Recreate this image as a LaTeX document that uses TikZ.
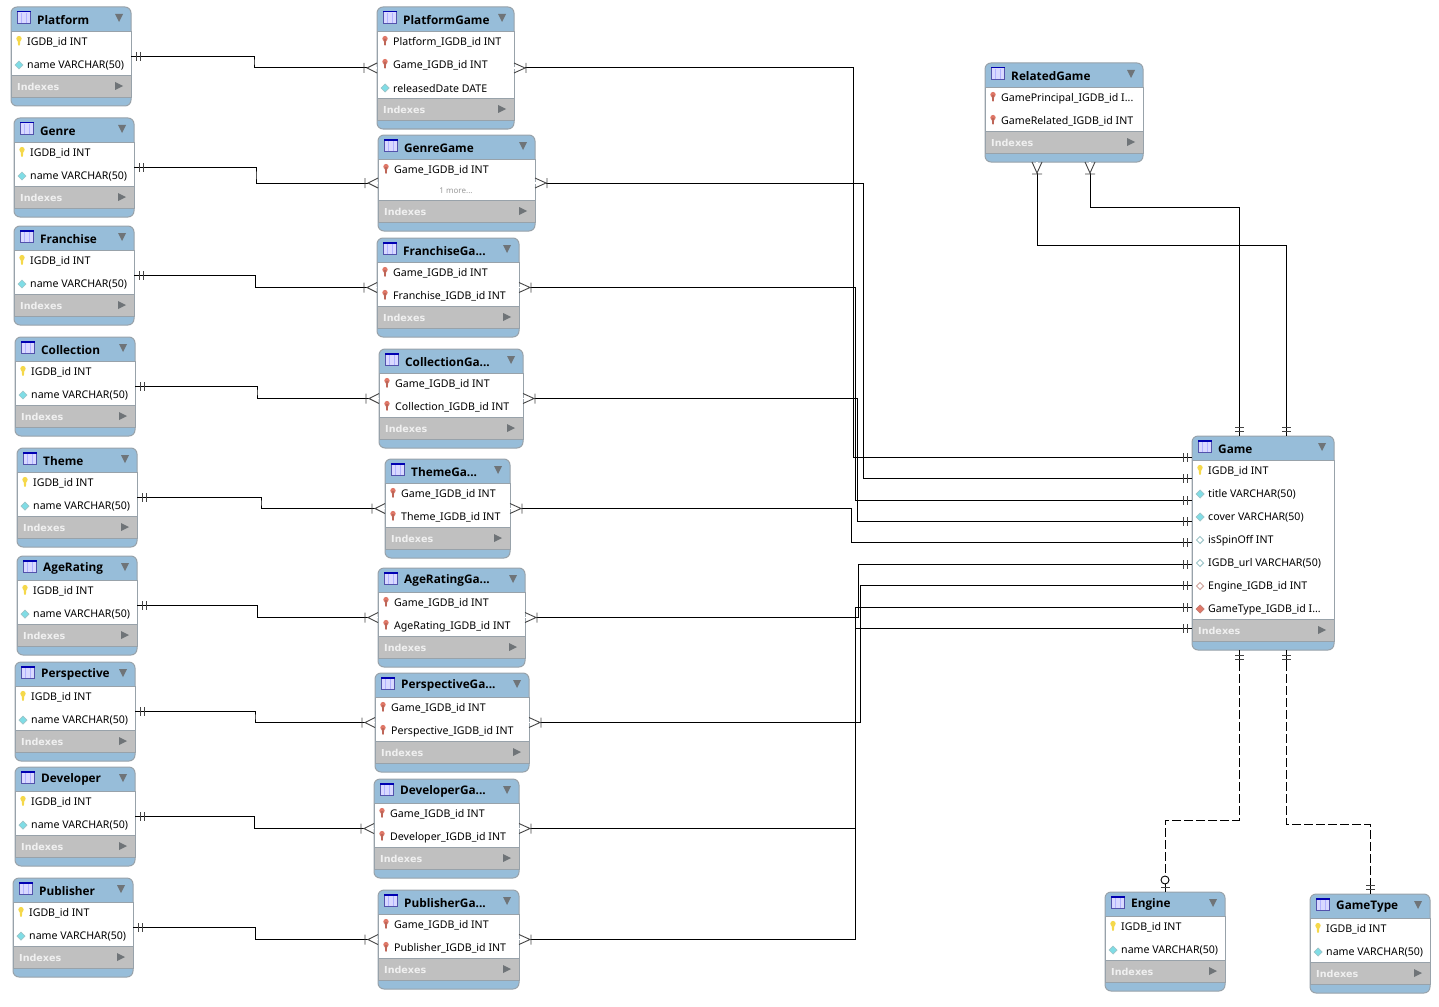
\documentclass[tikz,border=0pt]{standalone}
\usepackage{fontspec}
\setmainfont{Noto Sans}
\newfontfamily\titlefont{Open Sans}
\newfontfamily\indexfont{DejaVu Sans}
\usetikzlibrary{calc,decorations.markings}
\definecolor{headblue}{HTML}{97BDD9}
\definecolor{bandgray}{HTML}{C0C0C0}
\definecolor{edgegray}{HTML}{98A2AA}
\definecolor{markgray}{HTML}{444444}
\definecolor{tigray}{HTML}{6F7478}
\definecolor{colcyan}{HTML}{7FDDE6}
\definecolor{coledge}{HTML}{9CC4C8}
\definecolor{pinred}{HTML}{E07868}
\definecolor{keyyellow}{HTML}{F5D84A}
\newcommand{\cutdots}{...}
\tikzset{
  erdbox/.style={draw=edgegray,fill=headblue,line width=1pt,rounded corners=6pt,anchor=north west,inner sep=0pt,outer sep=0pt},
  titletext/.style={anchor=west,inner sep=0pt,font=\titlefont\fontsize{11.8}{14}\selectfont\bfseries},
  rowtext/.style={anchor=west,inner sep=0pt,font=\fontsize{10.6}{12}\selectfont},
  indextext/.style={anchor=west,inner sep=0pt,text=white!94!black,font=\indexfont\fontsize{9.6}{12}\selectfont\bfseries},
  moretext/.style={inner sep=0pt,text=gray!80,font=\fontsize{8}{10}\selectfont},
  link/.style={draw=black,line width=1pt},
  marks/.style={markgray,line width=.9pt,solid},
  oneS/.style={postaction={decorate,decoration={markings,mark=at position 5pt with {
    \draw[black,line width=1pt,solid] (-5,0) -- (8,0);
    \draw[marks] (0,-4.5) -- (0,4.5) (4,-4.5) -- (4,4.5);}}}},
  oneE/.style={postaction={decorate,decoration={markings,mark=at position -9pt with {
    \draw[black,line width=1pt,solid] (-3,0) -- (9,0);
    \draw[marks] (0,-4.5) -- (0,4.5) (4,-4.5) -- (4,4.5);}}}},
  crowS/.style={postaction={decorate,decoration={markings,mark=at position 12pt with {
    \draw[white,line width=1.6pt,solid] (-12,0) -- (-1,0);
    \draw[marks] (0,-5) -- (0,5) (-12,-5) -- (-1,0) -- (-12,5);}}}},
  crowE/.style={postaction={decorate,decoration={markings,mark=at position -13pt with {
    \draw[white,line width=1.6pt,solid] (3,0) -- (13,0);
    \draw[marks] (0,-5) -- (0,5) (13,-5) -- (3,0) -- (13,5);}}}},
  zeroE/.style={postaction={decorate,decoration={markings,mark=at position -12pt with {
    \draw[black,line width=1pt,solid] (0,0) -- (12,0);
    \draw[marks,black,fill=white] (0,0) circle (4);
    \draw[marks] (7,-4.5) -- (7,4.5);}}}},
  pics/keyicon/.style={code={
    \fill[keyyellow] (0,-3.4) circle (2.7);
    \fill[keyyellow] (-1.5,-3) -- (1.5,-3) -- (.9,3.5) -- (-.9,3.5) -- cycle;}},
  pics/pinicon/.style={code={
    \fill[pinred] (0,-3.4) circle (2.7);
    \fill[pinred!85!black] (-1.3,-3) -- (1.3,-3) -- (.7,3.5) -- (-.7,3.5) -- cycle;}},
  pics/colicon/.style={code={
    \draw[coledge,fill=colcyan,line width=.7pt] (-4,0) -- (0,-4) -- (4,0) -- (0,4) -- cycle;}},
  pics/opticon/.style={code={
    \draw[coledge,fill=white,line width=.9pt] (-3.6,0) -- (0,-3.6) -- (3.6,0) -- (0,3.6) -- cycle;}},
  pics/fkopticon/.style={code={
    \draw[pinred!60!gray!70,fill=white,line width=.9pt] (-3.6,0) -- (0,-3.6) -- (3.6,0) -- (0,3.6) -- cycle;}},
  pics/fkicon/.style={code={
    \draw[pinred!70!gray,fill=pinred,line width=.7pt] (-4,0) -- (0,-4) -- (4,0) -- (0,4) -- cycle;}},
}
% #1 name, #2 left, #3 top, #4 width, #5 height of the rows, #6 title, #7 rows
\newcommand{\erdtable}[7]{
  \node[erdbox,minimum width=#4*1pt,minimum height={(55+#5)*1pt}] (#1) at (#2,#3) {};
  \draw[edgegray,fill=white] (#2,#3+24) rectangle (#2+#4,#3+24+#5);
  \draw[edgegray,fill=bandgray] (#2,#3+24+#5) rectangle (#2+#4,#3+46+#5);
  \draw[blue!35!gray,fill=blue!15!white] (#2+6.5,#3+4.5) rectangle (#2+19.5,#3+16.5);
  \fill[blue!70!black] (#2+6,#3+4) rectangle (#2+20,#3+5.5);
  \draw[blue!30!white,line width=.8pt] (#2+10.5,#3+6) -- (#2+10.5,#3+16) (#2+15.5,#3+6) -- (#2+15.5,#3+16);
  \node[titletext] (#1-title) at (#2+26,#3+12.8) {#6};
  \fill[tigray] (#2+#4-16,#3+7) -- (#2+#4-8,#3+7) -- (#2+#4-12,#3+15) -- cycle;
  \foreach \ic/\txt [count=\i] in {#7} {
    \pic at (#2+8,#3+12+23*\i) {\ic};
    \node[rowtext] (#1-\i) at (#2+16,#3+12.7+23*\i) {\txt};
  }
  \node[indextext] (#1-indexes) at (#2+6,#3+35.5+#5) {Indexes};
  \fill[tigray] (#2+#4-16,#3+31+#5) -- (#2+#4-8,#3+35+#5) -- (#2+#4-16,#3+39+#5) -- cycle;
}
\begin{document}
\begin{tikzpicture}[x=1pt,y=-1pt]
\useasboundingbox (0,0) rectangle (1439,1006);
\erdtable{Platform}{11}{7}{120}{44}{Platform}{keyicon/IGDB\_id INT,colicon/name VARCHAR(50)}
\erdtable{Genre}{14}{118}{120}{44}{Genre}{keyicon/IGDB\_id INT,colicon/name VARCHAR(50)}
\erdtable{Franchise}{14}{226}{120}{44}{Franchise}{keyicon/IGDB\_id INT,colicon/name VARCHAR(50)}
\erdtable{Collection}{15}{337}{120}{44}{Collection}{keyicon/IGDB\_id INT,colicon/name VARCHAR(50)}
\erdtable{Theme}{17}{448}{120}{44}{Theme}{keyicon/IGDB\_id INT,colicon/name VARCHAR(50)}
\erdtable{AgeRating}{17}{556}{120}{44}{AgeRating}{keyicon/IGDB\_id INT,colicon/name VARCHAR(50)}
\erdtable{Perspective}{15}{662}{120}{44}{Perspective}{keyicon/IGDB\_id INT,colicon/name VARCHAR(50)}
\erdtable{Developer}{15}{767}{120}{44}{Developer}{keyicon/IGDB\_id INT,colicon/name VARCHAR(50)}
\erdtable{Publisher}{13}{878}{120}{44}{Publisher}{keyicon/IGDB\_id INT,colicon/name VARCHAR(50)}
\erdtable{PlatformGame}{377}{7}{137}{67}{PlatformGame}{pinicon/Platform\_IGDB\_id INT,pinicon/Game\_IGDB\_id INT,colicon/releasedDate DATE}
\erdtable{GenreGame}{378}{135}{157}{41}{GenreGame}{pinicon/Game\_IGDB\_id INT}
\node[moretext] (GenreGame-more) at (456,190.5) {1 more...};
\erdtable{FranchiseGame}{377}{238}{142}{44}{FranchiseGa...}{pinicon/Game\_IGDB\_id INT,pinicon/Franchise\_IGDB\_id INT}
\erdtable{CollectionGame}{379}{349}{144}{44}{CollectionGa...}{pinicon/Game\_IGDB\_id INT,pinicon/Collection\_IGDB\_id INT}
\erdtable{ThemeGame}{385}{459}{125}{44}{ThemeGa...}{pinicon/Game\_IGDB\_id INT,pinicon/Theme\_IGDB\_id INT}
\erdtable{AgeRatingGame}{378}{568}{147}{44}{AgeRatingGa...}{pinicon/Game\_IGDB\_id INT,pinicon/AgeRating\_IGDB\_id INT}
\erdtable{PerspectiveGame}{375}{673}{154}{44}{PerspectiveGa...}{pinicon/Game\_IGDB\_id INT,pinicon/Perspective\_IGDB\_id INT}
\erdtable{DeveloperGame}{374}{779}{145}{44}{DeveloperGa...}{pinicon/Game\_IGDB\_id INT,pinicon/Developer\_IGDB\_id INT}
\erdtable{PublisherGame}{378}{890}{141}{44}{PublisherGa...}{pinicon/Game\_IGDB\_id INT,pinicon/Publisher\_IGDB\_id INT}
\erdtable{RelatedGame}{985}{63}{158}{44}{RelatedGame}{pinicon/GamePrincipal\_IGDB\_id I\cutdots,pinicon/GameRelated\_IGDB\_id INT}
\erdtable{Game}{1192}{436}{142}{159}{Game}{keyicon/IGDB\_id INT,colicon/title VARCHAR(50),colicon/cover VARCHAR(50),opticon/isSpinOff INT,opticon/IGDB\_url VARCHAR(50),fkopticon/Engine\_IGDB\_id INT,fkicon/GameType\_IGDB\_id I\cutdots}
\erdtable{Engine}{1105}{892}{120}{44}{Engine}{keyicon/IGDB\_id INT,colicon/name VARCHAR(50)}
\erdtable{GameType}{1310}{894}{120}{44}{GameType}{keyicon/IGDB\_id INT,colicon/name VARCHAR(50)}
\foreach \n/\y in {1/457.5,2/478.5,3/500.5,4/521.5,5/542.5,6/564.5,7/585.5,8/607.5,9/628.5}
  \coordinate (GameIn\n) at (1192,\y);
\coordinate (GameTopA) at (1239,436);
\coordinate (GameTopB) at (1286,436);
\coordinate (GameBotA) at (1239,650);
\coordinate (GameBotB) at (1286,650);
\coordinate (RelatedA) at (1037,162);
\coordinate (RelatedB) at (1090,162);
\foreach \a/\b in {Platform/PlatformGame,Genre/GenreGame,Franchise/FranchiseGame,Collection/CollectionGame,Theme/ThemeGame,AgeRating/AgeRatingGame,Perspective/PerspectiveGame,Developer/DeveloperGame,Publisher/PublisherGame}
  \draw[link,oneS,crowE] (\a.east) -| ($(\a.east)!.5!(\b.west)$) |- (\b.west);
\foreach \a/\n in {PlatformGame/1,GenreGame/2,FranchiseGame/3,CollectionGame/4,ThemeGame/5,AgeRatingGame/6,PerspectiveGame/7,DeveloperGame/8,PublisherGame/9}
  \draw[link,crowS,oneE] (\a.east) -| ($(\a.east)!.5!(GameIn\n)$) |- (GameIn\n);
\draw[link,crowS,oneE] (RelatedA) -- ++(0,83) -| (GameTopB);
\draw[link,crowS,oneE] (RelatedB) -- ++(0,45) -| (GameTopA);
\draw[link,dash pattern=on 9pt off 3pt,oneS,zeroE] (GameBotA) -- ++(0,170) -| (Engine.north);
\draw[link,dash pattern=on 9pt off 3pt,oneS,oneE] (GameBotB) -- ++(0,174) -| (GameType.north);
\end{tikzpicture}
\end{document}
